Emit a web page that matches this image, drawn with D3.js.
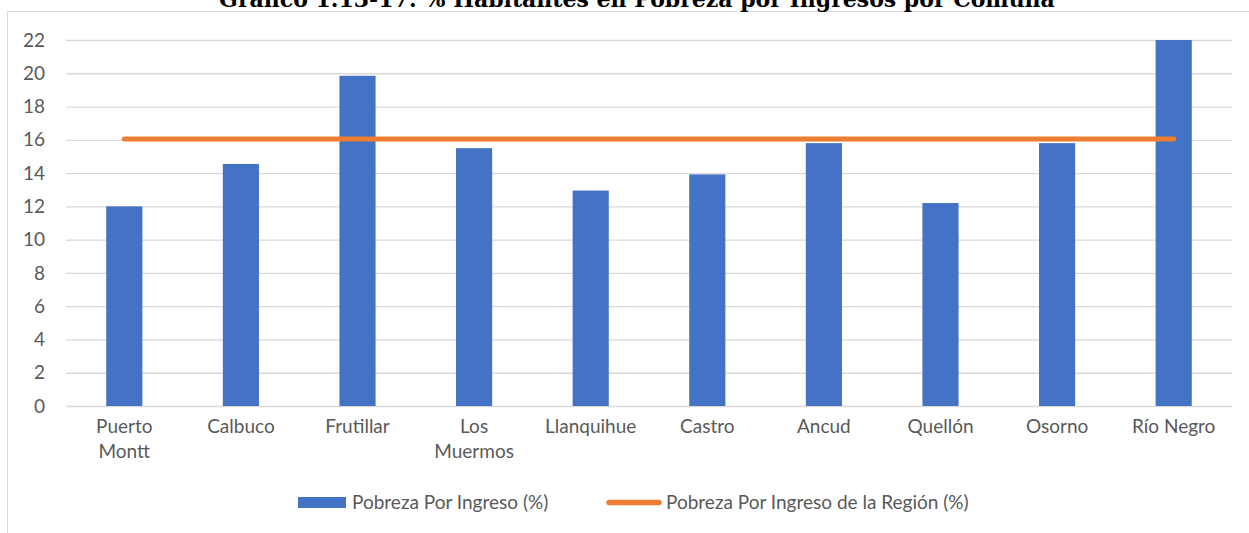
<!DOCTYPE html>
<html>
<head>
<meta charset="utf-8">
<style>
  body { margin: 0; background: #fff; }
  svg text { font-family: Lato, "Open Sans", sans-serif; fill: #595959; }
  .title { font-family: "DejaVu Serif", "Liberation Serif", serif; font-weight: bold; fill: #000; }
</style>
</head>
<body>
<svg id="chart" width="1249" height="533"></svg>
<script src="https://cdn.jsdelivr.net/npm/d3@7"></script>
<script>
// data
var comunas = ["Puerto Montt", "Calbuco", "Frutillar", "Los Muermos", "Llanquihue",
               "Castro", "Ancud", "Quellón", "Osorno", "Río Negro"];
var pobreza = [12.0, 14.55, 19.85, 15.5, 12.95, 13.92, 15.8, 12.2, 15.8, 22.0];
var pobrezaRegion = [16.05, 16.05, 16.05, 16.05, 16.05, 16.05, 16.05, 16.05, 16.05, 16.05];
var yTicks = [0, 2, 4, 6, 8, 10, 12, 14, 16, 18, 20, 22];
var seriesNames = ["Pobreza Por Ingreso (%)", "Pobreza Por Ingreso de la Región (%)"];

var svg = d3.select("#chart");
var blue = "#4472c4", orange = "#ed7d31", grid = "#d9d9d9";
var fs = 19;

// chart frame
svg.append("rect").attr("x", 7.5).attr("y", 11.5).attr("width", 1260).attr("height", 540)
   .attr("fill", "none").attr("stroke", grid);

svg.append("text").attr("class", "title")
   .attr("x", 637).attr("y", 6.5).attr("text-anchor", "middle").attr("font-size", 22)
   .text("Gráfico 1.13-17: % Habitantes en Pobreza por Ingresos por Comuna");

var pLeft = 66, pRight = 1232, pTop = 40, pBottom = 406;

var x = d3.scaleBand().domain(comunas).range([pLeft, pRight]).paddingInner(0.69).paddingOuter(0.345);
var y = d3.scaleLinear().domain([0, 22]).range([pBottom, pTop]);

// gridlines
svg.append("g").selectAll("line").data(yTicks).enter().append("line")
   .attr("x1", pLeft).attr("x2", pRight)
   .attr("y1", function(d) { return y(d) + 0.5; }).attr("y2", function(d) { return y(d) + 0.5; })
   .attr("stroke", grid).attr("stroke-width", 1.3);

// y labels
svg.append("g").selectAll("text").data(yTicks).enter().append("text")
   .attr("x", 45).attr("y", function(d) { return y(d); }).attr("dy", "0.35em")
   .attr("text-anchor", "end").attr("font-size", fs)
   .text(function(d) { return d; });

// bars
svg.append("g").selectAll("rect").data(pobreza).enter().append("rect")
   .attr("x", function(d, i) { return x(comunas[i]); })
   .attr("width", x.bandwidth())
   .attr("y", function(d) { return y(d); })
   .attr("height", function(d) { return y(0) - y(d); })
   .attr("fill", blue);

// region line
var line = d3.line()
   .x(function(d, i) { return x(comunas[i]) + x.bandwidth() / 2; })
   .y(function(d) { return y(d); });
svg.append("path").datum(pobrezaRegion).attr("d", line)
   .attr("fill", "none").attr("stroke", orange).attr("stroke-width", 5)
   .attr("stroke-linecap", "round");

// x labels, wrapped like the original
var wraps = { "Puerto Montt": ["Puerto", "Montt"], "Los Muermos": ["Los", "Muermos"] };
var xl = svg.append("g").selectAll("text").data(comunas).enter().append("text")
   .attr("text-anchor", "middle").attr("font-size", fs)
   .attr("x", function(d) { return x(d) + x.bandwidth() / 2; })
   .attr("y", 433);
xl.each(function(d) {
  var lines = wraps[d] || [d];
  var t = d3.select(this);
  lines.forEach(function(s, i) {
    t.append("tspan").attr("x", x(d) + x.bandwidth() / 2).attr("dy", i ? 25 : 0).text(s);
  });
});

// legend
var lg = svg.append("g");
lg.append("rect").attr("x", 298).attr("y", 497).attr("width", 48).attr("height", 11).attr("fill", blue);
lg.append("text").attr("x", 352).attr("y", 509).attr("font-size", fs).text(seriesNames[0]);
lg.append("line").attr("x1", 609).attr("x2", 659).attr("y1", 502.5).attr("y2", 502.5)
  .attr("stroke", orange).attr("stroke-width", 5.5).attr("stroke-linecap", "round");
lg.append("text").attr("x", 666).attr("y", 509).attr("font-size", fs).text(seriesNames[1]);
</script>
</body>
</html>
